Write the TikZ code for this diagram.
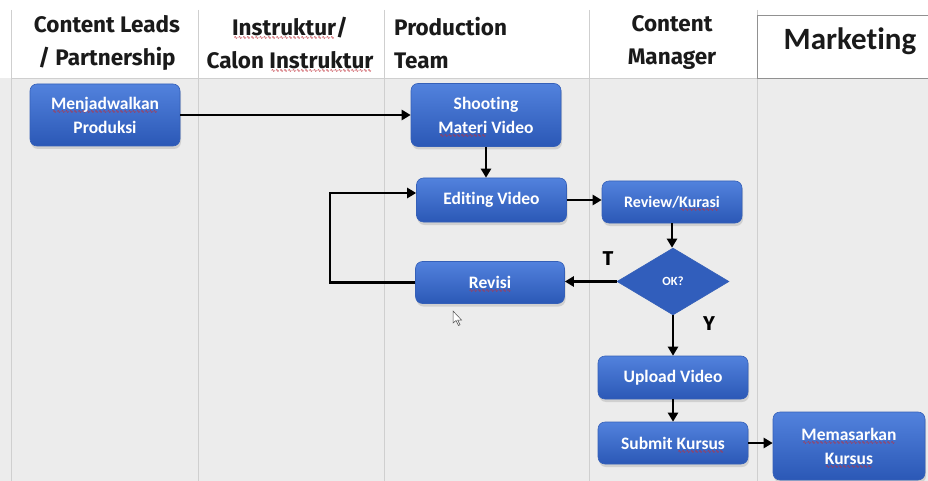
\documentclass[tikz,border=0pt]{standalone}
\usepackage{fontspec}
\setmainfont{Carlito}[Ligatures=NoCommon]
\newfontfamily\headfont{Fira Sans}
\newfontfamily\wavefont{DejaVu Sans}
\usetikzlibrary{shapes.geometric,arrows.meta,shadows}

\definecolor{boxtop}{HTML}{5282DD}
\definecolor{boxbot}{HTML}{2B58B6}
\definecolor{boxedge}{HTML}{3560B8}
\definecolor{lanebg}{HTML}{ECECEC}
\definecolor{laneline}{HTML}{CFCFCF}
\definecolor{headtext}{HTML}{1A1A1A}
\definecolor{squig}{HTML}{C0303A}

\newcommand\headfontsize{\fontsize{22.5}{33}\selectfont}
\newcommand\boxfontsize{\fontsize{17.5}{24}\selectfont}

% spell-checker style wavy underline, built from repeated wave glyphs
\newsavebox\wordbox
\newcommand\wavy[1]{\sbox\wordbox{#1}%
  \rlap{\raisebox{-4pt}[0pt][0pt]{\color{squig}\hbox to \wd\wordbox{%
    \cleaders\hbox{\wavefont\fontsize{5}{5}\selectfont\char"223F}\hfill}}}%
  \usebox\wordbox}

\tikzset{
  lane/.style={draw=laneline, line width=0.8pt},
  headlbl/.style={font=\headfont\bfseries\headfontsize, text=headtext, inner sep=0},
  box/.style={rounded corners=7pt, draw=boxedge, line width=0.6pt,
    top color=boxtop, bottom color=boxbot, text=white, align=center,
    font=\bfseries\boxfontsize, inner sep=0,
    drop shadow={opacity=0.25, shadow xshift=1pt, shadow yshift=-3pt}},
  decision/.style={diamond, draw=boxedge, line width=0.6pt, fill=boxbot!85!boxtop,
    text=white, font=\bfseries\fontsize{12.5}{14}\selectfont, inner sep=0,
    minimum width=112pt, minimum height=67pt},
  arr/.style={line width=2.7pt, -{Triangle[length=9pt,width=10pt]}},
  yn/.style={font=\headfont\bfseries\fontsize{20}{22}\selectfont, inner sep=0}
}

\begin{document}
\begin{tikzpicture}[x=1pt,y=-1pt]
\useasboundingbox (0,0) rectangle (928,481);
\fill[white] (0,0) rectangle (928,481);
\fill[lanebg] (0,78) rectangle (928,481);

% swimlane grid
\draw[lane] (11,78) -- (928,78);
\foreach \lx in {11,198,384,589,757}
  \draw[lane] (\lx,10) -- (\lx,481);
\draw[draw=laneline!70!black, line width=0.8pt, fill=white] (757,15) rectangle (931,78);

% lane headings
\node[headlbl, align=center] (h1) at (107,43) {Content Leads\\/ Partnership};
\node[headlbl, align=center] (h2) at (290,43) {\wavy{Instruktur}/\\Calon \wavy{Instruktur}};
\node[headlbl, align=left, anchor=west] (h3) at (394,43) {Production\\Team};
\node[headlbl, align=center] (h4) at (672,43) {Content\\Manager};
\node[font=\bfseries\fontsize{31}{34}\selectfont, text=headtext, inner sep=0] (h5) at (850,41) {Marketing};

% process steps
\node[box, minimum width=150pt, minimum height=62pt] (mp) at (105,115) {\wavy{Menjadwalkan}\\Produksi};
\node[box, minimum width=150pt, minimum height=63pt] (sm) at (486,115) {Shooting\\\wavy{Materi} Video};
\node[box, minimum width=150pt, minimum height=44pt] (ev) at (491.5,200) {Editing Video};
\node[box, minimum width=140pt, minimum height=42pt, font=\bfseries\fontsize{16}{20}\selectfont] (rk) at (672,202) {Review/\wavy{Kurasi}};
\node[decision] (ok) at (673,281.5) {OK?};
\node[box, minimum width=149pt, minimum height=42pt] (rv) at (490,282.5) {\wavy{Revisi}};
\node[box, minimum width=150pt, minimum height=43pt] (uv) at (673,377.5) {Upload Video};
\node[box, minimum width=150pt, minimum height=42pt] (sk) at (673,443) {Submit \wavy{Kursus}};
\node[box, minimum width=152pt, minimum height=68pt] (mk) at (849,446) {\wavy{Memasarkan}\\\wavy{Kursus}};

% flow
\draw[arr] (mp.east) -- (mp.east -| sm.west);
\draw[arr] (sm.south) -- (sm.south |- ev.north);
\draw[arr] (ev.east) -- (ev.east -| rk.west);
\draw[arr] (rk.south) -- (rk.south |- ok.north);
\draw[arr] (ok.west) -- (ok.west -| rv.east);
\coordinate (loopx) at (330,0);
\coordinate (evin) at ([yshift=7pt]ev.west);
\draw[arr] (rv.west) -- (rv.west -| loopx) -- (loopx |- evin) -- (evin);
\draw[arr] (ok.south) -- (ok.south |- uv.north);
\draw[arr] (uv.south) -- (uv.south |- sk.north);
\draw[arr] (sk.east) -- (sk.east -| mk.west);

\node[yn] (tl) at (608,259) {T};
\node[yn] (yl) at (709,324) {Y};

% mouse pointer
\draw[black!70, line width=0.5pt, fill=white] (453,311) -- (453,323) -- (456,320.5) -- (458.5,325.5) -- (460,324.8) -- (457.6,320) -- (461.5,320) -- cycle;
\end{tikzpicture}
\end{document}
